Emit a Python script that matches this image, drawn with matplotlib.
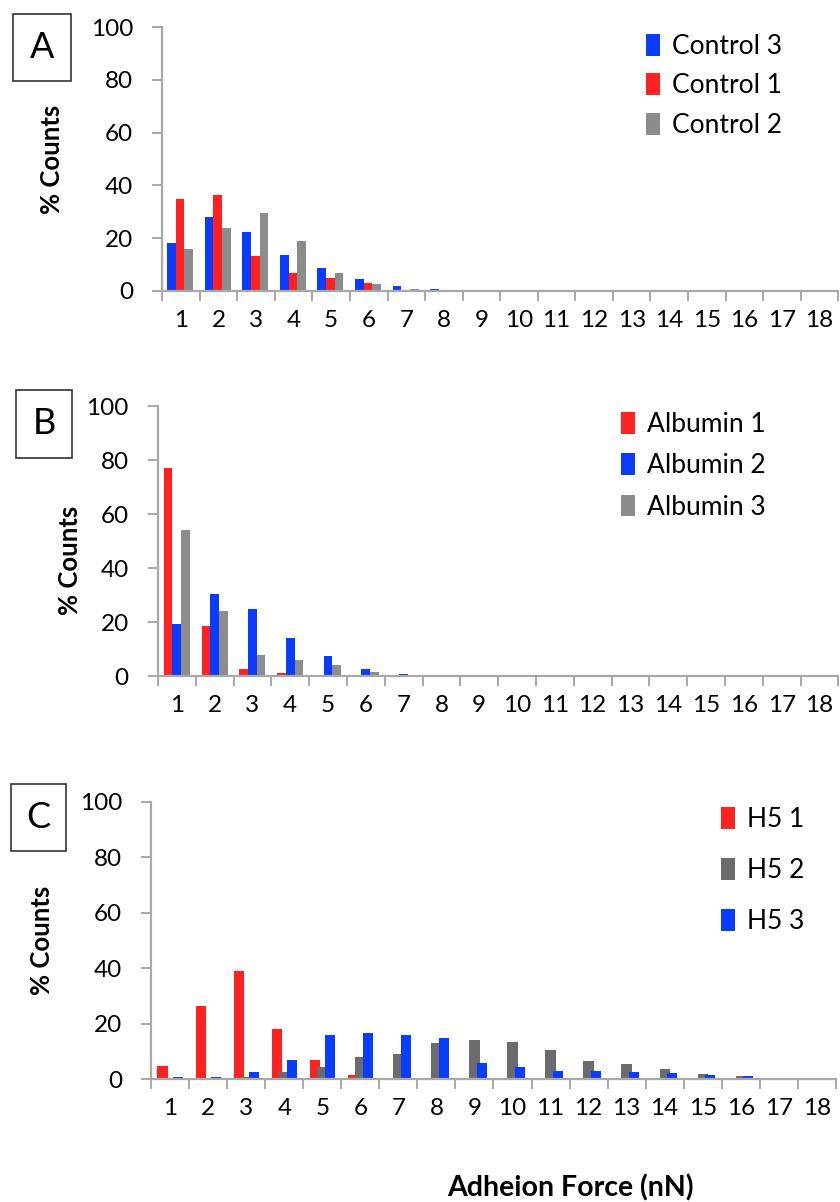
import numpy as np
import matplotlib
matplotlib.use("Agg")
import matplotlib.pyplot as plt
from matplotlib.patches import Rectangle

plt.rcParams['font.family'] = ['Lato', 'DejaVu Sans']

forces = list(range(1, 19))

# panel A
control_3 = [18.3, 28.1, 22.3, 13.6, 8.8, 4.4, 1.9, 0.7, 0.4, 0.3, 0.2, 0.1, 0.1, 0.1, 0.1, 0.1, 0.1, 0.1]
control_1 = [34.8, 36.2, 13.3, 6.7, 5.0, 2.8, 0.5, 0.3, 0.1, 0.1, 0.1, 0, 0, 0, 0, 0, 0, 0]
control_2 = [16.0, 24.0, 29.7, 19.0, 6.6, 2.7, 0.6, 0.4, 0.2, 0.1, 0.1, 0.1, 0, 0, 0, 0, 0, 0]

# panel B
albumin_1 = [77.0, 18.6, 2.5, 1.1, 0.4, 0.1, 0, 0, 0, 0, 0, 0, 0, 0, 0, 0, 0, 0]
albumin_2 = [19.2, 30.2, 24.9, 14.2, 7.5, 2.5, 0.6, 0.2, 0.1, 0.1, 0, 0, 0, 0, 0, 0, 0, 0]
albumin_3 = [54.0, 24.2, 7.8, 6.1, 4.1, 1.3, 0.3, 0.1, 0, 0, 0, 0, 0, 0, 0, 0, 0, 0]

# panel C
h5_1 = [4.7, 26.5, 39.0, 18.0, 6.9, 1.6, 0.5, 0.2, 0.1, 0, 0, 0, 0, 0, 0, 0, 0, 0]
h5_2 = [0, 0.3, 0.8, 2.5, 4.2, 8.0, 9.0, 13.1, 14.0, 13.3, 10.3, 6.6, 5.6, 3.8, 1.8, 1.1, 0.3, 0.2]
h5_3 = [0.8, 0.9, 2.6, 6.8, 15.8, 16.6, 15.8, 14.9, 5.7, 4.2, 2.9, 2.9, 2.6, 2.0, 1.6, 1.0, 0.3, 0.3]

BLUE = '#0a3cff'
RED = '#ff2020'
GREY = '#8c8c8c'
DGREY = '#6b6b6b'
AXC = '#a8a8a8'

fig = plt.figure(figsize=(8.4, 12.02), dpi=100)

def setup(ax):
    ax.set_xlim(0.5, 18.5)
    ax.set_ylim(0, 100)
    for s in ['top', 'right']:
        ax.spines[s].set_visible(False)
    for s in ['left', 'bottom']:
        ax.spines[s].set_color(AXC)
        ax.spines[s].set_linewidth(1.6)
    ax.set_xticks(forces)
    ax.set_xticklabels([str(f) for f in forces])
    ax.set_xticks(np.arange(0.5, 19, 1), minor=True)
    ax.tick_params(axis='x', which='major', length=0, pad=14, labelsize=17.5)
    ax.tick_params(axis='x', which='minor', length=7, width=1.4, color=AXC, direction='out')
    ax.set_yticks(range(0, 101, 20))
    ax.tick_params(axis='y', length=7, width=1.4, color=AXC, pad=14, labelsize=17.5)

def panel(rect, series, colors, labels, width, offsets):
    ax = fig.add_axes(rect)
    x = np.array(forces)
    for vals, c, lab, off in zip(series, colors, labels, offsets):
        ax.bar(x + off, vals, width, color=c, label=lab, zorder=2)
    setup(ax)
    return ax

leg_kw = dict(loc='upper left', frameon=False, fontsize=19, handlelength=0.55,
              handleheight=0.9, handletextpad=0.45)

# A
axA = panel([0.193, 0.758, 0.805, 0.2195],
            [control_3, control_1, control_2], [BLUE, RED, GREY],
            ['Control 3', 'Control 1', 'Control 2'], 0.23, [-0.25, -0.02, 0.21])
axA.legend(bbox_to_anchor=(0.68, 1.065), labelspacing=0.55, **leg_kw)

# B
axB = panel([0.188, 0.4376, 0.81, 0.2246],
            [albumin_1, albumin_2, albumin_3], [RED, BLUE, GREY],
            ['Albumin 1', 'Albumin 2', 'Albumin 3'], 0.23, [-0.23, 0.0, 0.23])
axB.legend(bbox_to_anchor=(0.645, 1.067), labelspacing=0.62, **leg_kw)

# C
axC = panel([0.18, 0.1023, 0.815, 0.2305],
            [h5_1, h5_2, h5_3], [RED, DGREY, BLUE],
            ['H5 1', 'H5 2', 'H5 3'], 0.27, [-0.2, 0.0, 0.2])
axC.legend(bbox_to_anchor=(0.797, 1.066), labelspacing=0.97, **leg_kw)

W, H = 840.0, 1202.0
# panel letters in boxes
for letter, (x0, y0, x1, y1) in [('A', (13, 14, 71, 81)), ('B', (16, 390, 72, 458)), ('C', (11, 784, 66, 851))]:
    fig.patches.append(Rectangle((x0 / W, 1 - y1 / H), (x1 - x0) / W, (y1 - y0) / H,
                                 transform=fig.transFigure, fill=False, edgecolor='#333333', linewidth=1.2))
    fig.text((x0 + x1) / 2 / W, 1 - (y0 + y1) / 2 / H, letter, ha='center', va='center', fontsize=26)

# y labels
for (xp, yp) in [(52, 159), (70, 560), (42, 940)]:
    fig.text(xp / W, 1 - yp / H, '% Counts', rotation=90, ha='center', va='center',
             fontsize=18.5, fontweight='bold')

fig.text(570 / W, 1 - 1188 / H, 'Adheion Force (nN)', ha='center', va='center',
         fontsize=20.5, fontweight='bold')

fig.savefig('out.png', dpi=100)
